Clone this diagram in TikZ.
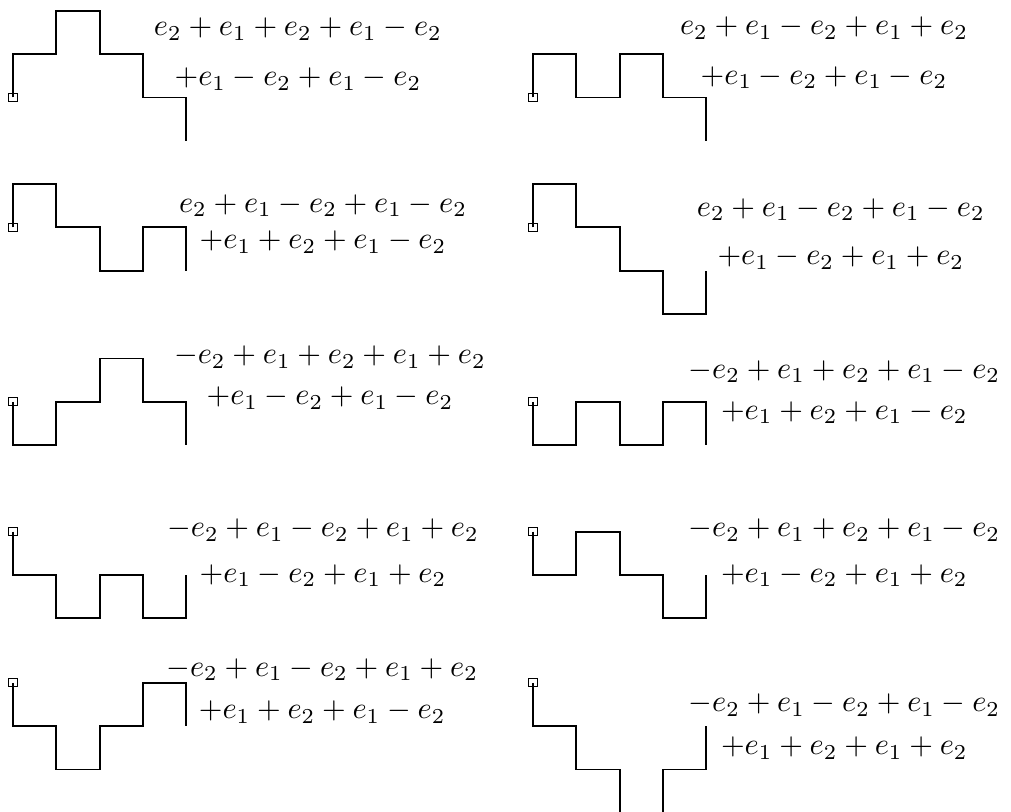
\documentclass[tikz,border=0pt]{standalone}
\usepackage{amsmath,amssymb}
\usepackage{tikz}
\usetikzlibrary{positioning}
\tikzset{
  %% -- small square marking the start of a walk --
  lp/start/.style={
    draw, line width=0.35pt, rectangle,
    minimum size=2.7pt, inner sep=0pt
  },
  %% -- the lattice walk itself --
  lp/walk/.style={line width=0.6pt, line join=miter},
  %% -- the step word next to a walk --
  lp/lbl/.style={align=center, inner sep=0pt, font=\normalsize},
}

\begin{document}
\begin{tikzpicture}[x=0.5cm, y=0.5cm]
\useasboundingbox (0,0) rectangle (23.35,-18.75);

%% Start points
\node[lp/start] (s1)  at (0.30,  -2.25) {};
\node[lp/start] (s2)  at (12.31, -2.25) {};
\node[lp/start] (s3)  at (0.30,  -5.25) {};
\node[lp/start] (s4)  at (12.31, -5.25) {};
\node[lp/start] (s5)  at (0.30,  -9.28) {};
\node[lp/start] (s6)  at (12.31, -9.28) {};
\node[lp/start] (s7)  at (0.30, -12.28) {};
\node[lp/start] (s8)  at (12.31,-12.28) {};
\node[lp/start] (s9)  at (0.30, -15.77) {};
\node[lp/start] (s10) at (12.31,-15.77) {};

%% Walks
\draw[lp/walk] (s1.center) -- ++(0,1) -- ++(1,0) -- ++(0,1) -- ++(1,0)
  -- ++(0,-1) -- ++(1,0) -- ++(0,-1) -- ++(1,0) -- ++(0,-1);
\draw[lp/walk] (s2.center) -- ++(0,1) -- ++(1,0) -- ++(0,-1) -- ++(1,0)
  -- ++(0,1) -- ++(1,0) -- ++(0,-1) -- ++(1,0) -- ++(0,-1);
\draw[lp/walk] (s3.center) -- ++(0,1) -- ++(1,0) -- ++(0,-1) -- ++(1,0)
  -- ++(0,-1) -- ++(1,0) -- ++(0,1) -- ++(1,0) -- ++(0,-1);
\draw[lp/walk] (s4.center) -- ++(0,1) -- ++(1,0) -- ++(0,-1) -- ++(1,0)
  -- ++(0,-1) -- ++(1,0) -- ++(0,-1) -- ++(1,0) -- ++(0,1);
\draw[lp/walk] (s5.center) -- ++(0,-1) -- ++(1,0) -- ++(0,1) -- ++(1,0)
  -- ++(0,1) -- ++(1,0) -- ++(0,-1) -- ++(1,0) -- ++(0,-1);
\draw[lp/walk] (s6.center) -- ++(0,-1) -- ++(1,0) -- ++(0,1) -- ++(1,0)
  -- ++(0,-1) -- ++(1,0) -- ++(0,1) -- ++(1,0) -- ++(0,-1);
\draw[lp/walk] (s7.center) -- ++(0,-1) -- ++(1,0) -- ++(0,-1) -- ++(1,0)
  -- ++(0,1) -- ++(1,0) -- ++(0,-1) -- ++(1,0) -- ++(0,1);
\draw[lp/walk] (s8.center) -- ++(0,-1) -- ++(1,0) -- ++(0,1) -- ++(1,0)
  -- ++(0,-1) -- ++(1,0) -- ++(0,-1) -- ++(1,0) -- ++(0,1);
\draw[lp/walk] (s9.center) -- ++(0,-1) -- ++(1,0) -- ++(0,-1) -- ++(1,0)
  -- ++(0,1) -- ++(1,0) -- ++(0,1) -- ++(1,0) -- ++(0,-1);
\draw[lp/walk] (s10.center) -- ++(0,-1) -- ++(1,0) -- ++(0,-1) -- ++(1,0)
  -- ++(0,-1) -- ++(1,0) -- ++(0,1) -- ++(1,0) -- ++(0,1);

%% Step words
\node[lp/lbl] (w1) at (6.88, -1.25)
  {$e_2+e_1+e_2+e_1-e_2$\\[4.4pt]$+e_1-e_2+e_1-e_2$};
\node[lp/lbl] (w2) at (19.03, -1.22)
  {$e_2+e_1-e_2+e_1+e_2$\\[4.4pt]$+e_1-e_2+e_1-e_2$};
\node[lp/lbl] (w3) at (7.46, -5.17)
  {$e_2+e_1-e_2+e_1-e_2$\\$+e_1+e_2+e_1-e_2$};
\node[lp/lbl] (w4) at (19.42, -5.40)
  {$e_2+e_1-e_2+e_1-e_2$\\[3.8pt]$+e_1-e_2+e_1+e_2$};
\node[lp/lbl] (w5) at (7.62, -8.72)
  {$-e_2+e_1+e_2+e_1+e_2$\\[1.5pt]$+e_1-e_2+e_1-e_2$};
\node[lp/lbl] (w6) at (19.5, -9.06)
  {$-e_2+e_1+e_2+e_1-e_2$\\[1.5pt]$+e_1+e_2+e_1-e_2$};
\node[lp/lbl] (w7) at (7.46, -12.77)
  {$-e_2+e_1-e_2+e_1+e_2$\\[3pt]$+e_1-e_2+e_1+e_2$};
\node[lp/lbl] (w8) at (19.5, -12.77)
  {$-e_2+e_1+e_2+e_1-e_2$\\[3pt]$+e_1-e_2+e_1+e_2$};
\node[lp/lbl] (w9) at (7.44, -15.96)
  {$-e_2+e_1-e_2+e_1+e_2$\\[2pt]$+e_1+e_2+e_1-e_2$};
\node[lp/lbl] (w10) at (19.5, -16.78)
  {$-e_2+e_1-e_2+e_1-e_2$\\[2.2pt]$+e_1+e_2+e_1+e_2$};
\end{tikzpicture}
\end{document}
